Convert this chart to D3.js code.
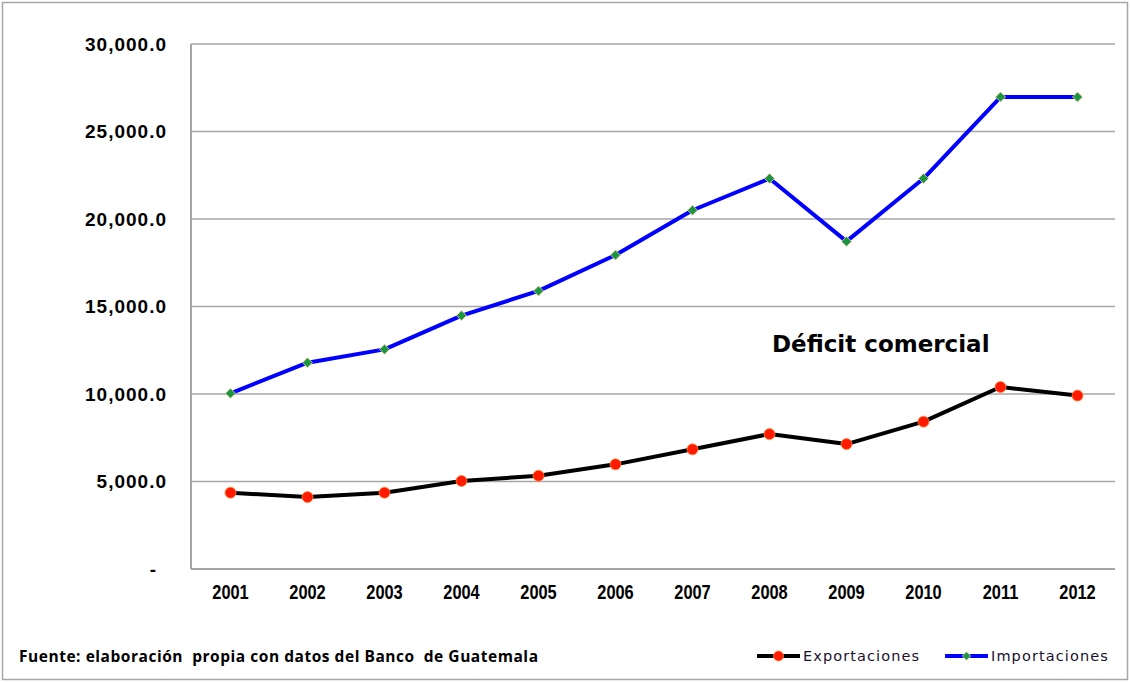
<!DOCTYPE html>
<html>
<head>
<meta charset="utf-8">
<script src="https://cdn.jsdelivr.net/npm/d3@7"></script>
<style>
  html, body { margin: 0; padding: 0; background: #ffffff; }
  svg { display: block; font-family: "Liberation Sans", Arial, sans-serif; }
</style>
</head>
<body>
<div id="chart"></div>
<script>
const years = ["2001", "2002", "2003", "2004", "2005", "2006", "2007", "2008", "2009", "2010", "2011", "2012"];
const exportaciones = [4360, 4110, 4360, 5030, 5330, 5980, 6840, 7710, 7140, 8420, 10400, 9910];
const importaciones = [10040, 11790, 12550, 14480, 15890, 17940, 20500, 22310, 18720, 22310, 26970, 26970];
const yTicks = [0, 5000, 10000, 15000, 20000, 25000, 30000];

const width = 1131;
const height = 683;
const plot = { left: 191, right: 1116, top: 44, bottom: 569 };

const svg = d3.select("#chart")
  .append("svg")
  .attr("width", width)
  .attr("height", height);

// outer frame
svg.append("rect")
  .attr("x", 2.5)
  .attr("y", 2.5)
  .attr("width", 1125)
  .attr("height", 677)
  .attr("fill", "#ffffff")
  .attr("stroke", "#a6a6a6")
  .attr("stroke-width", 1.5);

const xScale = d3.scaleBand()
  .domain(years)
  .range([plot.left + 1, plot.right])
  .padding(0);

const xCenter = (d) => xScale(d) + xScale.bandwidth() / 2;

const yScale = d3.scaleLinear()
  .domain([0, 30000])
  .range([plot.bottom, plot.top]);

// gridlines
svg.append("g")
  .selectAll("line")
  .data(yTicks.filter((t) => t > 0))
  .join("line")
  .attr("x1", plot.left)
  .attr("x2", plot.right - 1)
  .attr("y1", (d) => yScale(d))
  .attr("y2", (d) => yScale(d))
  .attr("stroke", "#a6a6a6")
  .attr("stroke-width", 1.5);

// axes lines
svg.append("line")
  .attr("x1", plot.left).attr("x2", plot.left)
  .attr("y1", plot.top).attr("y2", plot.bottom)
  .attr("stroke", "#a6a6a6").attr("stroke-width", 2);
svg.append("line")
  .attr("x1", plot.left).attr("x2", plot.right - 1)
  .attr("y1", plot.bottom).attr("y2", plot.bottom)
  .attr("stroke", "#a6a6a6").attr("stroke-width", 2);

// y tick labels
const yFormat = (v) => (v === 0 ? "-" : d3.format(",.1f")(v));
svg.append("g")
  .selectAll("text")
  .data(yTicks)
  .join("text")
  .attr("x", (d) => (d === 0 ? 157 : 167))
  .attr("y", (d) => yScale(d))
  .attr("dy", "0.36em")
  .attr("text-anchor", "end")
  .attr("font-size", 19)
  .attr("font-weight", "bold")
  .attr("letter-spacing", 1)
  .attr("fill", "#000000")
  .text(yFormat);

// x tick labels (condensed)
svg.append("g")
  .selectAll("text")
  .data(years)
  .join("text")
  .attr("transform", (d) => `translate(${xCenter(d)},599) scale(0.8,1)`)
  .attr("text-anchor", "middle")
  .attr("font-size", 20.5)
  .attr("font-weight", "bold")
  .attr("fill", "#000000")
  .text((d) => d);

const line = d3.line()
  .x((d) => xCenter(d.year))
  .y((d) => yScale(d.value));

const impRows = years.map((year, i) => ({ year, value: importaciones[i] }));
const expRows = years.map((year, i) => ({ year, value: exportaciones[i] }));

svg.append("path")
  .datum(impRows)
  .attr("d", line)
  .attr("fill", "none")
  .attr("stroke", "#0000ff")
  .attr("stroke-width", 4)
  .attr("stroke-linejoin", "round");

svg.append("path")
  .datum(expRows)
  .attr("d", line)
  .attr("fill", "none")
  .attr("stroke", "#000000")
  .attr("stroke-width", 4)
  .attr("stroke-linejoin", "round");

svg.append("g")
  .selectAll("path")
  .data(impRows)
  .join("path")
  .attr("transform", (d) => `translate(${xCenter(d.year)},${yScale(d.value)}) rotate(45)`)
  .attr("d", d3.symbol().type(d3.symbolSquare).size(50))
  .attr("fill", "#1a9641")
  .attr("stroke", "#f2c9a0")
  .attr("stroke-width", 0.8);

svg.append("g")
  .selectAll("circle")
  .data(expRows)
  .join("circle")
  .attr("cx", (d) => xCenter(d.year))
  .attr("cy", (d) => yScale(d.value))
  .attr("r", 5.5)
  .attr("fill", "#ff1a00")
  .attr("stroke", "#ff8a3d")
  .attr("stroke-width", 0.8);

// annotation
svg.append("text")
  .attr("x", 772)
  .attr("y", 352)
  .attr("font-family", "'DejaVu Sans', Verdana, sans-serif")
  .attr("font-size", 23)
  .attr("font-weight", "bold")
  .attr("fill", "#000000")
  .text("Déficit comercial");

// source note
svg.append("text")
  .attr("x", 19)
  .attr("y", 662)
  .attr("font-family", "'Open Sans', sans-serif")
  .attr("font-size", 15.5)
  .attr("font-weight", "bold")
  .attr("fill", "#000000")
  .attr("textLength", 519)
  .attr("lengthAdjust", "spacing")
  .style("white-space", "pre")
  .text("Fuente: elaboración  propia con datos del Banco  de Guatemala");

// legend
const legendItems = [
  { label: "Exportaciones", color: "#000000", x: 757, marker: "circle" },
  { label: "Importaciones", color: "#0000ff", x: 945, marker: "diamond" }
];

const legend = svg.append("g").attr("class", "legend");
legendItems.forEach((item) => {
  const g = legend.append("g").attr("transform", `translate(${item.x},656)`);
  g.append("line")
    .attr("x1", 0).attr("x2", 43)
    .attr("y1", 0).attr("y2", 0)
    .attr("stroke", item.color)
    .attr("stroke-width", 4);
  if (item.marker === "circle") {
    g.append("circle")
      .attr("cx", 21.5).attr("cy", 0).attr("r", 5)
      .attr("fill", "#ff1a00")
      .attr("stroke", "#ff8a3d")
      .attr("stroke-width", 0.8);
  } else {
    g.append("path")
      .attr("transform", "translate(21.5,0) rotate(45)")
      .attr("d", d3.symbol().type(d3.symbolSquare).size(36))
      .attr("fill", "#1a9641")
      .attr("stroke", "#f2c9a0")
      .attr("stroke-width", 0.8);
  }
  g.append("text")
    .attr("x", 46)
    .attr("y", 0)
    .attr("dy", "0.35em")
    .attr("font-family", "'DejaVu Sans', sans-serif")
    .attr("font-size", 14.5)
    .attr("letter-spacing", 1.1)
    .attr("fill", "#1a1030")
    .text(item.label);
});
</script>
</body>
</html>
